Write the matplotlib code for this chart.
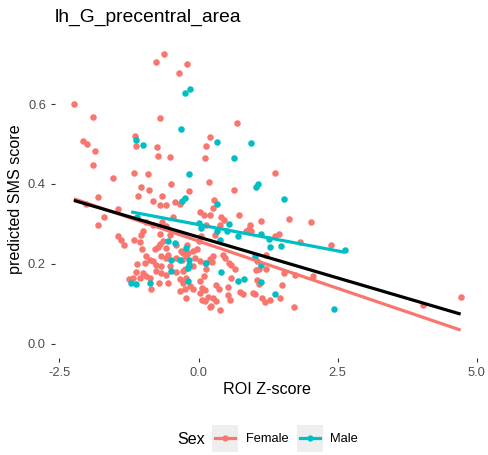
import numpy as np
import matplotlib
matplotlib.use("Agg")
import matplotlib.pyplot as plt
from matplotlib.patches import Rectangle
from matplotlib.lines import Line2D

plt.rcParams['font.family'] = ['Liberation Sans', 'DejaVu Sans']

title = "lh_G_precentral_area"
x_label = "ROI Z-score"
y_label = "predicted SMS score"
legend_title = "Sex"
groups = ["Female", "Male"]
group_colors = {"Female": "#F8766D", "Male": "#00BFC4"}
x_ticks = [-2.5, 0.0, 2.5, 5.0]
x_tick_labels = ["-2.5", "0.0", "2.5", "5.0"]
y_ticks = [0.0, 0.2, 0.4, 0.6]
y_tick_labels = ["0.0", "0.2", "0.4", "0.6"]

female_x = [-0.62, -0.77, -0.20, -0.35, -2.24, -1.90, -0.69, 0.70, -1.15, -2.08,
            -2.01, 0.20, -1.13, -0.75, 0.14, -1.86, -0.72, -0.52, 0.11, -1.90,
            -1.53, -1.16, -0.90, 1.38, -0.49, 0.18, -1.03, -0.89, -0.17, 0.64,
            -1.08, -0.65, -1.80, -0.82, -0.69, -0.58, -0.42, -0.34, 0.28, -2.03,
            -1.45, 0.26, 0.03, 0.09, -1.69, 0.73, 0.21, 0.41, 0.45, 1.13,
            1.62, 2.03, -1.80, -0.65, -0.94, -0.82, -0.58, 0.38, 0.14, 0.92,
            0.90, 0.85, 0.95, -1.00, -1.04, -0.70, -0.52, 0.29, 0.05, 1.38,
            1.44, -1.45, -1.39, -1.16, -1.06, -1.34, -0.69, -0.64, -0.40, 0.00,
            -0.21, 1.83, -1.01, -0.79, -0.73, -0.58, -0.03, 2.38, -0.28, -0.19,
            -0.10, -0.94, -0.88, -0.82, -0.67, -0.55, -0.31, -0.22, -0.29, -0.07,
            0.02, 0.11, -0.97, -1.11, -0.76, -0.67, -0.58, -0.40, 0.26, 0.20,
            0.24, 0.44, 0.47, 1.21, 0.54, 0.58, 1.05, 0.13, 1.04, 1.08,
            1.22, 1.53, 1.74, 2.06, 0.65, 0.58, -1.00, -0.94, -0.88, -1.13,
            -0.76, -0.67, -0.58, -0.40, -0.28, -0.25, -0.10, -1.18, -1.06, -1.24,
            -0.71, -0.55, -0.34, -0.28, -0.22, -0.16, -0.10, -0.34, -0.25, -0.85,
            -0.22, 0.02, 0.02, 0.09, 0.06, 0.31, 0.36, 0.53, 0.07, 0.12,
            1.50, 0.17, 0.12, 0.26, 0.53, 0.56, 0.74, 0.80, 0.98, 1.01,
            1.46, 1.14, 1.19, 1.28, 0.31, 0.23, 0.20, 0.38, 1.71, 4.03,
            4.71, 1.05, 1.08, -0.52, -0.46]
female_y = [0.726, 0.705, 0.701, 0.679, 0.600, 0.569, 0.566, 0.553, 0.521, 0.507,
            0.500, 0.517, 0.496, 0.493, 0.496, 0.483, 0.470, 0.468, 0.464, 0.447,
            0.416, 0.427, 0.426, 0.427, 0.401, 0.404, 0.392, 0.385, 0.383, 0.385,
            0.371, 0.371, 0.367, 0.358, 0.348, 0.348, 0.356, 0.350, 0.361, 0.349,
            0.338, 0.341, 0.331, 0.323, 0.318, 0.322, 0.322, 0.316, 0.310, 0.308,
            0.311, 0.304, 0.296, 0.305, 0.305, 0.298, 0.294, 0.298, 0.298, 0.296,
            0.286, 0.282, 0.281, 0.283, 0.271, 0.274, 0.271, 0.273, 0.269, 0.269,
            0.274, 0.269, 0.260, 0.260, 0.254, 0.246, 0.250, 0.256, 0.248, 0.256,
            0.248, 0.255, 0.236, 0.238, 0.242, 0.239, 0.236, 0.248, 0.227, 0.227,
            0.231, 0.219, 0.210, 0.206, 0.219, 0.223, 0.231, 0.219, 0.209, 0.214,
            0.206, 0.202, 0.202, 0.199, 0.198, 0.194, 0.214, 0.214, 0.219, 0.212,
            0.205, 0.221, 0.214, 0.221, 0.203, 0.198, 0.208, 0.186, 0.184, 0.187,
            0.186, 0.177, 0.173, 0.169, 0.186, 0.164, 0.177, 0.169, 0.165, 0.179,
            0.181, 0.177, 0.173, 0.179, 0.181, 0.188, 0.194, 0.165, 0.165, 0.161,
            0.152, 0.152, 0.161, 0.152, 0.165, 0.144, 0.136, 0.131, 0.136, 0.136,
            0.115, 0.127, 0.156, 0.169, 0.109, 0.146, 0.136, 0.142, 0.140, 0.134,
            0.146, 0.116, 0.106, 0.115, 0.121, 0.110, 0.130, 0.123, 0.127, 0.125,
            0.113, 0.113, 0.105, 0.109, 0.106, 0.094, 0.092, 0.085, 0.092, 0.097,
            0.117, 0.159, 0.150, 0.194, 0.318]

male_x = [-0.16, -0.25, -0.31, -1.12, -0.99, 0.33, 0.95, 0.64, -0.17, 1.07,
          1.04, -0.25, -0.29, 0.33, 1.53, -1.10, 0.55, 0.00, 0.04, 0.34,
          0.52, 1.13, 0.71, 0.39, 1.26, 1.28, 1.48, 2.63, 1.02, 0.14,
          1.12, 0.41, 0.71, 0.81, 1.13, 1.38, 2.44, -0.55, -0.43, -0.49,
          -0.34, -0.17, -0.17, -0.49, -1.21, -1.12, -0.88, -0.19, -0.19, -0.22]
male_y = [0.638, 0.628, 0.537, 0.510, 0.498, 0.505, 0.502, 0.464, 0.424, 0.400,
          0.393, 0.366, 0.358, 0.349, 0.363, 0.318, 0.299, 0.301, 0.290, 0.283,
          0.283, 0.275, 0.269, 0.260, 0.262, 0.241, 0.244, 0.234, 0.219, 0.201,
          0.198, 0.179, 0.156, 0.163, 0.154, 0.125, 0.087, 0.256, 0.252, 0.209,
          0.210, 0.210, 0.198, 0.181, 0.152, 0.148, 0.153, 0.156, 0.190, 0.239]

W, H = 488, 455
fig = plt.figure(figsize=(W / 100, H / 100), dpi=100)
fig.patch.set_facecolor("white")
L, R, T, B = 54.5, 480, 39.5, 358
ax = fig.add_axes([L / W, 1 - B / H, (R - L) / W, (B - T) / H])
ax.set_facecolor("white")

series = {"Female": (np.array(female_x), np.array(female_y)),
          "Male": (np.array(male_x), np.array(male_y))}

for g in groups:
    xs, ys = series[g]
    ax.scatter(xs, ys, s=22, color=group_colors[g], linewidths=0, zorder=2)

# linear fits per group
for g in groups:
    xs, ys = series[g]
    k, b = np.polyfit(xs, ys, 1)
    xx = np.array([xs.min(), xs.max()])
    ax.plot(xx, k * xx + b, color=group_colors[g], lw=2.3, zorder=3,
            solid_capstyle="butt")

# overall fit
all_x = np.concatenate([series[g][0] for g in groups])
all_y = np.concatenate([series[g][1] for g in groups])
k, b = np.polyfit(all_x, all_y, 1)
xx = np.array([all_x.min(), all_x.max()])
ax.plot(xx, k * xx + b, color="black", lw=2.3, zorder=4, solid_capstyle="butt")

# ggplot-like limits (include 0 on y), 5% expansion
x0, x1 = all_x.min(), all_x.max()
y0, y1 = min(0.0, all_y.min()), all_y.max()
dx, dy = (x1 - x0) * 0.05, (y1 - y0) * 0.05
ax.set_xlim(x0 - dx, x1 + dx)
ax.set_ylim(y0 - dy, y1 + dy)

for s in ax.spines.values():
    s.set_visible(False)
ax.set_xticks(x_ticks)
ax.set_xticklabels(x_tick_labels)
ax.set_yticks(y_ticks)
ax.set_yticklabels(y_tick_labels)
ax.tick_params(axis="both", length=3.2, width=0.8, color="#333333",
               labelcolor="#4D4D4D", labelsize=9.3, pad=3)

fig.text(L / W, 1 - 17 / H, title, fontsize=13.9, ha="left", va="center")
fig.text(267 / W, 1 - 390 / H, x_label, fontsize=11.6, ha="center", va="center")
fig.text(16 / W, 1 - (T + B) / 2 / H, y_label, fontsize=11.6, ha="center",
         va="center", rotation=90)

# legend (bottom, horizontal, ggplot style)
fig.text(177 / W, 1 - 439 / H, legend_title, fontsize=11.6, ha="left", va="center")
key_x = {"Female": 212.3, "Male": 297.3}
lab_x = {"Female": 246, "Male": 330}
for g in groups:
    kx = key_x[g]
    fig.patches.append(Rectangle((kx / W, 1 - 451.7 / H), 25.4 / W, 26.7 / H,
                                 transform=fig.transFigure, facecolor="#EEEEEE",
                                 edgecolor="none", zorder=1))
    cy = 1 - 438.3 / H
    fig.lines.append(Line2D([(kx + 2.5) / W, (kx + 23) / W], [cy, cy],
                            transform=fig.transFigure, color=group_colors[g],
                            lw=2.3, zorder=2))
    fig.lines.append(Line2D([(kx + 12.7) / W], [cy], transform=fig.transFigure,
                            color=group_colors[g], marker="o", markersize=4.5,
                            markeredgewidth=0, zorder=3))
    fig.text(lab_x[g] / W, 1 - 439 / H, g, fontsize=9.3, ha="left", va="center")

fig.savefig("out.png", dpi=100, facecolor="white")
